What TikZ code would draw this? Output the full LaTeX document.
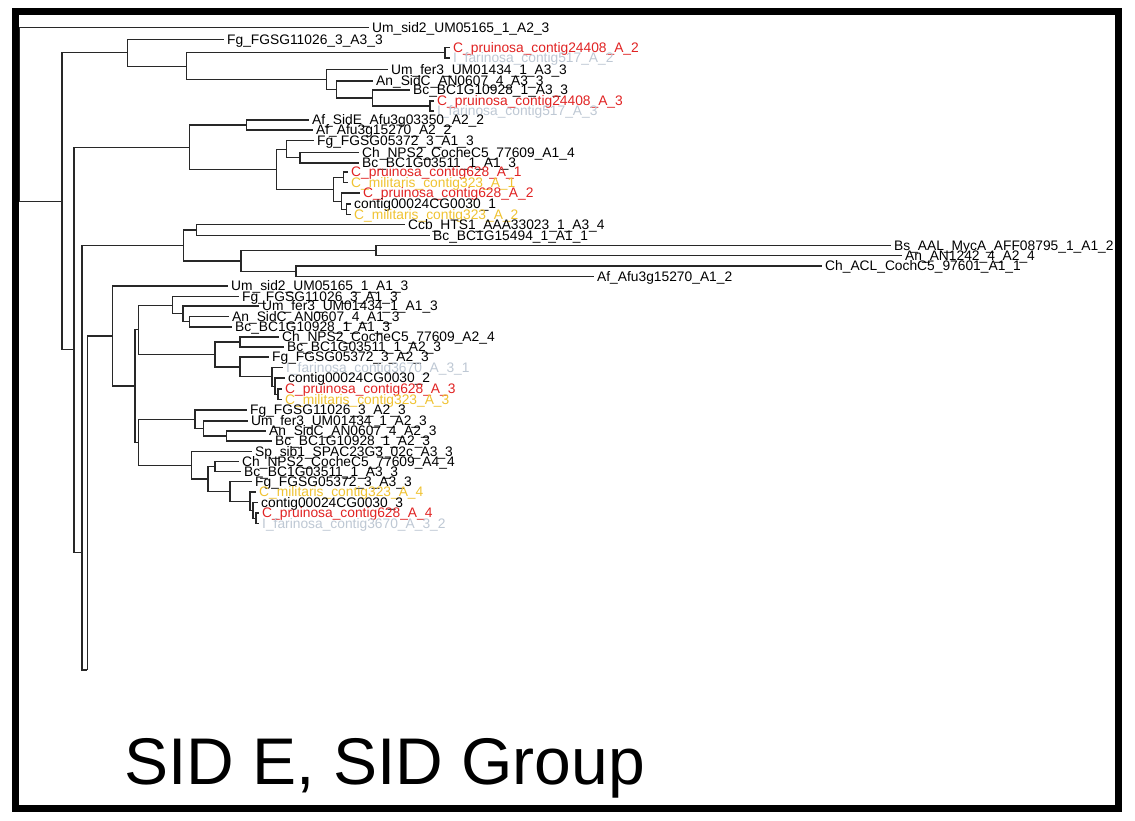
\documentclass[tikz,border=0pt]{standalone}
\usepackage{fontspec}
\setmainfont{Liberation Sans}
\definecolor{cpr}{RGB}{225,35,35}
\definecolor{cmi}{RGB}{240,195,50}
\definecolor{cfa}{RGB}{190,200,212}
\definecolor{brc}{RGB}{40,40,40}
\newcommand\lblfont{\fontsize{13.8}{14}\selectfont}
\newcommand\brleaf[2]{\draw[br] (#1) |- ([xshift=-3pt]#2.west);}
\newcommand\brnode[2]{\draw[br] (#1) |- (#2);}
\begin{document}
\begin{tikzpicture}[x=1pt,y=-1pt,
  br/.style={draw=brc,line width=1.2pt},
  lbl/.style={anchor=west,inner sep=0pt,text height=9.9pt,text depth=0pt,font=\lblfont}]
\useasboundingbox (0,0) rectangle (1135,820);
\fill[white] (0,0) rectangle (1135,820);
% internal nodes
\coordinate (root) at (19,114.35);
\coordinate (A) at (62,201.2);
\coordinate (B) at (127.7,52.8);
\coordinate (C) at (186.7,66.1);
\coordinate (b1) at (445,52.75);
\coordinate (D) at (326.7,79.4);
\coordinate (D1) at (336.7,89.5);
\coordinate (D2) at (372.7,98);
\coordinate (b2) at (430,106);
\coordinate (E) at (74,349.7);
\coordinate (F) at (189.3,147.1);
\coordinate (I) at (246.7,125);
\coordinate (J) at (276.7,169.15);
\coordinate (K) at (286.7,149.1);
\coordinate (L) at (300,157.75);
\coordinate (M) at (333.3,189.2);
\coordinate (N) at (343.3,177.25);
\coordinate (O) at (341.7,201.1);
\coordinate (P) at (346.7,209.25);
\coordinate (G) at (82,552.3);
\coordinate (R0) at (183.7,245.4);
\coordinate (Q) at (196.7,229.9);
\coordinate (R) at (241,260.9);
\coordinate (S) at (376,250.5);
\coordinate (T) at (296,271.25);
\coordinate (H) at (87.3,670);
\coordinate (U) at (112.7,336);
\coordinate (V) at (135,386);
\coordinate (W) at (138.3,329.85);
\coordinate (Y) at (172.3,305.25);
\coordinate (Y2) at (183,313.75);
\coordinate (Y3) at (189.3,321.75);
\coordinate (Z) at (215,354.45);
\coordinate (Z1) at (240,342);
\coordinate (Z2) at (240,366.9);
\coordinate (Z3) at (272,376.8);
\coordinate (Z4) at (275,386.1);
\coordinate (Z5) at (278,394.25);
\coordinate (X) at (138.3,442.2);
\coordinate (X1) at (195,419.25);
\coordinate (X2) at (203.3,428.5);
\coordinate (X3) at (226.7,436);
\coordinate (X4) at (191.7,465.2);
\coordinate (X5) at (208,478.9);
\coordinate (X6) at (215,466.5);
\coordinate (X7) at (230,491.35);
\coordinate (X8) at (250,501.2);
\coordinate (X9) at (253,510.4);
\coordinate (X10) at (256,518.25);
% leaves
\node[lbl] (l1) at (372,27.5) {Um\_sid2\_UM05165\_1\_A2\_3};
\node[lbl] (l2) at (227,39.5) {Fg\_FGSG11026\_3\_A3\_3};
\node[lbl,text=cpr] (l3) at (453,47.5) {C\_pruinosa\_contig24408\_A\_2};
\node[lbl,text=cfa] (l4) at (453,58) {I\_farinosa\_contig517\_A\_2};
\node[lbl] (l5) at (391,69.3) {Um\_fer3\_UM01434\_1\_A3\_3};
\node[lbl] (l6) at (376,81) {An\_SidC\_AN0607\_4\_A3\_3};
\node[lbl] (l7) at (413,90) {Bc\_BC1G10928\_1\_A3\_3};
\node[lbl,text=cpr] (l8) at (437,101) {C\_pruinosa\_contig24408\_A\_3};
\node[lbl,text=cfa] (l9) at (437,111) {I\_farinosa\_contig517\_A\_3};
\node[lbl] (l10) at (312,120) {Af\_SidE\_Afu3g03350\_A2\_2};
\node[lbl] (l11) at (316,130) {Af\_Afu3g15270\_A2\_2};
\node[lbl] (l12) at (317,140.5) {Fg\_FGSG05372\_3\_A1\_3};
\node[lbl] (l13) at (362,152.5) {Ch\_NPS2\_CocheC5\_77609\_A1\_4};
\node[lbl] (l14) at (362,163) {Bc\_BC1G03511\_1\_A1\_3};
\node[lbl,text=cpr] (l15) at (351,172) {C\_pruinosa\_contig628\_A\_1};
\node[lbl,text=cmi] (l16) at (351,182.5) {C\_militaris\_contig323\_A\_1};
\node[lbl,text=cpr] (l17) at (363,193) {C\_pruinosa\_contig628\_A\_2};
\node[lbl] (l18) at (354,204) {contig00024CG0030\_1};
\node[lbl,text=cmi] (l19) at (354,214.5) {C\_militaris\_contig323\_A\_2};
\node[lbl] (l20) at (408,224.3) {Ccb\_HTS1\_AAA33023\_1\_A3\_4};
\node[lbl] (l21) at (433,235.5) {Bc\_BC1G15494\_1\_A1\_1};
\node[lbl] (l22) at (894,245.5) {Bs\_AAL\_MycA\_AFF08795\_1\_A1\_2};
\node[lbl] (l23) at (905,255.5) {An\_AN1242\_4\_A2\_4};
\node[lbl] (l24) at (825,266) {Ch\_ACL\_CochC5\_97601\_A1\_1};
\node[lbl] (l25) at (597,276.5) {Af\_Afu3g15270\_A1\_2};
\node[lbl] (l26) at (231,286) {Um\_sid2\_UM05165\_1\_A1\_3};
\node[lbl] (l27) at (242,296.5) {Fg\_FGSG11026\_3\_A1\_3};
\node[lbl] (l28) at (262,306) {Um\_fer3\_UM01434\_1\_A1\_3};
\node[lbl] (l29) at (232,316.5) {An\_SidC\_AN0607\_4\_A1\_3};
\node[lbl] (l30) at (235,327) {Bc\_BC1G10928\_1\_A1\_3};
\node[lbl] (l31) at (282,337) {Ch\_NPS2\_CocheC5\_77609\_A2\_4};
\node[lbl] (l32) at (287,347) {Bc\_BC1G03511\_1\_A2\_3};
\node[lbl] (l33) at (272,357) {Fg\_FGSG05372\_3\_A2\_3};
\node[lbl,text=cfa] (l34) at (286,367.5) {I\_farinosa\_contig3670\_A\_3\_1};
\node[lbl] (l35) at (288,378) {contig00024CG0030\_2};
\node[lbl,text=cpr] (l36) at (285,389) {C\_pruinosa\_contig628\_A\_3};
\node[lbl,text=cmi] (l37) at (285,399.5) {C\_militaris\_contig323\_A\_3};
\node[lbl] (l38) at (250,410) {Fg\_FGSG11026\_3\_A2\_3};
\node[lbl] (l39) at (251,421) {Um\_fer3\_UM01434\_1\_A2\_3};
\node[lbl] (l40) at (269,431) {An\_SidC\_AN0607\_4\_A2\_3};
\node[lbl] (l41) at (275,441) {Bc\_BC1G10928\_1\_A2\_3};
\node[lbl] (l42) at (255,451.5) {Sp\_sib1\_SPAC23G3\_02c\_A3\_3};
\node[lbl] (l43) at (242,461.5) {Ch\_NPS2\_CocheC5\_77609\_A4\_4};
\node[lbl] (l44) at (244,471.5) {Bc\_BC1G03511\_1\_A3\_3};
\node[lbl] (l45) at (255,481.5) {Fg\_FGSG05372\_3\_A3\_3};
\node[lbl,text=cmi] (l46) at (259,492) {C\_militaris\_contig323\_A\_4};
\node[lbl] (l47) at (261,502.5) {contig00024CG0030\_3};
\node[lbl,text=cpr] (l48) at (262,513) {C\_pruinosa\_contig628\_A\_4};
\node[lbl,text=cfa] (l49) at (262,523.5) {I\_farinosa\_contig3670\_A\_3\_2};
% branches
\brleaf{root}{l1} \brnode{root}{A}
\brnode{A}{B} \brnode{A}{E}
\brleaf{B}{l2} \brnode{B}{C}
\brnode{C}{b1} \brnode{C}{D}
\brleaf{b1}{l3} \brleaf{b1}{l4}
\brleaf{D}{l5} \brnode{D}{D1}
\brleaf{D1}{l6} \brnode{D1}{D2}
\brleaf{D2}{l7} \brnode{D2}{b2}
\brleaf{b2}{l8} \brleaf{b2}{l9}
\brnode{E}{F} \brnode{E}{G}
\brnode{F}{I} \brnode{F}{J}
\brleaf{I}{l10} \brleaf{I}{l11}
\brnode{J}{K} \brnode{J}{M}
\brleaf{K}{l12} \brnode{K}{L}
\brleaf{L}{l13} \brleaf{L}{l14}
\brnode{M}{N} \brnode{M}{O}
\brleaf{N}{l15} \brleaf{N}{l16}
\brleaf{O}{l17} \brnode{O}{P}
\brleaf{P}{l18} \brleaf{P}{l19}
\brnode{G}{R0} \brnode{G}{H}
\brnode{R0}{Q} \brnode{R0}{R}
\brleaf{Q}{l20} \brleaf{Q}{l21}
\brnode{R}{S} \brnode{R}{T}
\brleaf{S}{l22} \brleaf{S}{l23}
\brleaf{T}{l24} \brleaf{T}{l25}
\brnode{H}{U}
\brleaf{U}{l26} \brnode{U}{V}
\brnode{V}{W} \brnode{V}{X}
\brnode{W}{Y} \brnode{W}{Z}
\brleaf{Y}{l27} \brnode{Y}{Y2}
\brleaf{Y2}{l28} \brnode{Y2}{Y3}
\brleaf{Y3}{l29} \brleaf{Y3}{l30}
\brnode{Z}{Z1} \brnode{Z}{Z2}
\brleaf{Z1}{l31} \brleaf{Z1}{l32}
\brleaf{Z2}{l33} \brnode{Z2}{Z3}
\brleaf{Z3}{l34} \brnode{Z3}{Z4}
\brleaf{Z4}{l35} \brnode{Z4}{Z5}
\brleaf{Z5}{l36} \brleaf{Z5}{l37}
\brnode{X}{X1} \brnode{X}{X4}
\brleaf{X1}{l38} \brnode{X1}{X2}
\brleaf{X2}{l39} \brnode{X2}{X3}
\brleaf{X3}{l40} \brleaf{X3}{l41}
\brleaf{X4}{l42} \brnode{X4}{X5}
\brnode{X5}{X6} \brnode{X5}{X7}
\brleaf{X6}{l43} \brleaf{X6}{l44}
\brleaf{X7}{l45} \brnode{X7}{X8}
\brleaf{X8}{l46} \brnode{X8}{X9}
\brleaf{X9}{l47} \brnode{X9}{X10}
\brleaf{X10}{l48} \brleaf{X10}{l49}
% title and frame
\node[anchor=base west,inner sep=0pt,font=\fontsize{66}{70}\selectfont] (title) at (124,784) {SID E, SID Group};
\draw[line width=7pt] (15.5,11.7) rectangle (1118.5,808.8);
\end{tikzpicture}
\end{document}
